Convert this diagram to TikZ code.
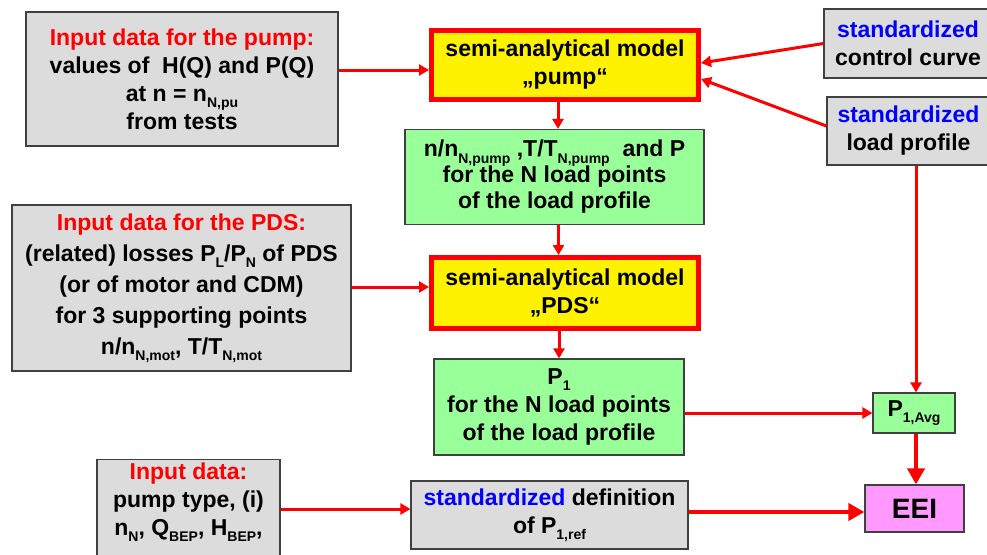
\documentclass[tikz,border=0pt]{standalone}
\usepackage{fontspec}
\setmainfont{Liberation Sans}
\usetikzlibrary{arrows.meta,positioning}
\definecolor{boxgray}{HTML}{DCDCDC}
\definecolor{resgreen}{HTML}{99FF99}
\definecolor{eeipink}{HTML}{FF99FF}
\newcommand{\lowix}[1]{\raisebox{-0.5ex}{\fontsize{14}{14}\selectfont #1}}

\begin{document}
\begin{tikzpicture}[x=1pt, y=-1pt,
  font=\fontsize{23}{28}\selectfont\bfseries,
  box/.style={draw=black!75, line width=1.2pt, align=center, inner sep=2pt, fill=#1},
  box/.default=boxgray,
  model/.style={draw=red, line width=5pt, fill=yellow, align=center,
                minimum width=267pt, inner sep=2pt},
  arr/.style={-{Triangle[length=10pt,width=11pt]}, red, line width=3pt},
  barr/.style={-{Triangle[length=16pt,width=17pt]}, red, line width=4.5pt}]
\useasboundingbox (0,0) rectangle (987,554);
% inputs on the left
\node[box, minimum width=312pt, minimum height=134pt] (inpump) at (182,79)
  {\textcolor{red}{Input data for the pump:}\\values of~ H(Q) and P(Q)\\at n = n\lowix{N,pu}\\from tests};
\node[box, minimum width=339pt, minimum height=166pt,
      font=\fontsize{23}{31}\selectfont\bfseries] (inpds) at (181.5,288)
  {\textcolor{red}{Input data for the PDS:}\\(related) losses P\lowix{L}/P\lowix{N} of PDS\\(or of motor and CDM)\\for 3 supporting points\\n/n\lowix{N,mot}, T/T\lowix{N,mot}};
\node[box, anchor=north, minimum width=183pt, minimum height=130pt] (indata) at (188.5,459) {};
\node[anchor=north, align=center, inner sep=0pt] (indatatxt) at ([yshift=-4pt]indata.north)
  {\textcolor{red}{Input data:}\\pump type, (i)\\n\lowix{N}, Q\lowix{BEP}, H\lowix{BEP},};
% the two models and their results
\node[model, minimum height=69pt] (mpump) at (565,65) {semi-analytical model\\„pump“};
\node[box=resgreen, minimum width=299pt, minimum height=95pt,
      font=\fontsize{23}{26}\selectfont\bfseries] (respump) at (554.5,177)
  {n/n\lowix{N,pump} ,T/T\lowix{N,pump}~ and P\\for the N load points\\of the load profile};
\node[model, minimum height=71pt] (mpds) at (565,293) {semi-analytical model\\„PDS“};
\node[box=resgreen, minimum width=250pt, minimum height=96pt] (respds) at (559,407)
  {P\lowix{1}\\for the N load points\\of the load profile};
\node[box, minimum width=277pt, minimum height=68pt] (pref) at (549.5,515)
  {\textcolor{blue}{standardized} definition\\of P\lowix{1,ref}};
% standardized inputs on the right
\node[box, minimum width=168pt, minimum height=69pt] (ctrl) at (908,43.5)
  {\textcolor{blue}{standardized}\\control curve};
\node[box, minimum width=163pt, minimum height=68pt] (lprof) at (908.5,131)
  {\textcolor{blue}{standardized}\\load profile};
\node[box=resgreen, minimum width=82pt, minimum height=40pt] (pavg) at (914,413) {P\lowix{1,Avg}};
\node[box=eeipink, minimum width=99pt, minimum height=47pt,
      font=\fontsize{28}{32}\selectfont\bfseries] (eei) at (914.5,508.5) {EEI};
% connectors
\draw[arr] ([yshift=9pt]inpump.east) -- ([yshift=9pt]inpump.east -| mpump.west);
\draw[arr] (ctrl.west) -- ([yshift=2pt]mpump.east);
\draw[arr] ([yshift=5pt]lprof.west) -- ([yshift=-14pt]mpump.east);
\draw[arr] ([xshift=-7pt]mpump.south) -- ([xshift=-7pt]mpump.south |- respump.north);
\draw[arr] ([xshift=4pt]respump.south) -- ([xshift=4pt]respump.south |- mpds.north);
\draw[arr] ([yshift=1pt]inpds.east) -- ([yshift=1pt]inpds.east -| mpds.west);
\draw[arr] (respds.north |- mpds.south) -- (respds.north);
\draw[arr] ([xshift=2pt]pavg.north |- lprof.south) -- ([xshift=2pt]pavg.north);
\draw[arr] (respds.east |- pavg.west) -- (pavg.west);
\draw[arr] ([yshift=6pt]pref.west -| indata.east) -- ([yshift=6pt]pref.west);
\draw[barr] ([xshift=2pt]pavg.south) -- ([xshift=2pt]pavg.south |- eei.north);
\draw[barr] ([yshift=3pt]pref.east) -- ([yshift=3pt]pref.east -| eei.west);
\end{tikzpicture}
\end{document}
